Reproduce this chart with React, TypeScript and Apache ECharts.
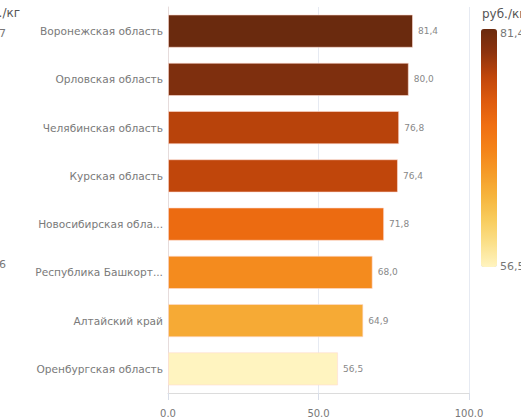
import React, { useEffect, useRef } from "react";
import * as echarts from "echarts";

const categories = [
  "Воронежская область",
  "Орловская область",
  "Челябинская область",
  "Курская область",
  "Новосибирская область",
  "Республика Башкортостан",
  "Алтайский край",
  "Оренбургская область",
];
const values = [81.4, 80.0, 76.8, 76.4, 71.8, 68.0, 64.9, 56.5];
const xTicks = [0, 50, 100];
const unitLabel = "руб./кг";
const prevLegendTop = "81,7";
const prevLegendBottom = "56,6";

const fmt = (v: number) => v.toFixed(1).replace(".", ",");
const shorten = (s: string) => (s.length > 20 ? s.slice(0, 18) + "..." : s);

export default function App() {
  const ref = useRef<HTMLDivElement>(null);
  useEffect(() => {
    document.body.style.margin = "0";
    if (!ref.current) return;
    const chart = echarts.init(ref.current, null, { renderer: "svg" });
    const vmin = Math.min(...values);
    const vmax = Math.max(...values);
    const font = "DejaVu Sans";
    chart.setOption({
      animation: false,
      textStyle: { fontFamily: font },
      grid: { left: 168, right: 52, top: 7, bottom: 25, containLabel: false },
      xAxis: {
        type: "value",
        min: xTicks[0],
        max: xTicks[xTicks.length - 1],
        interval: 50,
        axisLine: { show: true, lineStyle: { color: "#dcdcdc" } },
        axisTick: { show: true, length: 7, lineStyle: { color: "#d8dde8" } },
        splitLine: { show: true, lineStyle: { color: "#e6eaf2" } },
        axisLabel: {
          color: "#777",
          fontSize: 10,
          margin: 15,
          fontFamily: font,
          formatter: (v: number) => v.toFixed(1),
        },
      },
      yAxis: {
        type: "category",
        data: categories,
        inverse: true,
        axisLine: { show: true, lineStyle: { color: "#e6dcdc" } },
        axisTick: { show: false },
        axisLabel: {
          color: "#7a7a7a",
          fontSize: 10.6,
          margin: 5,
          fontFamily: font,
          formatter: (v: string) => shorten(v),
        },
      },
      visualMap: {
        type: "continuous",
        min: vmin,
        max: vmax,
        dimension: 0,
        seriesIndex: 0,
        left: 481,
        top: 29,
        padding: 0,
        itemWidth: 16,
        itemHeight: 238,
        calculable: false,
        showLabel: false,
        inRange: {
          color: [
            "#fff4c0",
            "#fbe08a",
            "#f8cc5c",
            "#f6b43c",
            "#f59a28",
            "#f48218",
            "#ef6e12",
            "#dd5a0e",
            "#c0460b",
            "#8e330e",
            "#6a2a0e",
          ],
        },
      },
      graphic: [
        {
          type: "text",
          x: 482,
          y: 14,
          style: { text: unitLabel, fill: "#555", fontSize: 12, fontFamily: font, verticalAlign: "middle" },
        },
        {
          type: "text",
          x: 500,
          y: 33,
          style: { text: fmt(vmax), fill: "#777", fontSize: 11, fontFamily: font, verticalAlign: "middle" },
        },
        {
          type: "text",
          x: 500,
          y: 266,
          style: { text: fmt(vmin), fill: "#777", fontSize: 11, fontFamily: font, verticalAlign: "middle" },
        },
        {
          type: "text",
          x: 20,
          y: 13,
          style: { text: unitLabel, fill: "#555", fontSize: 12, fontFamily: font, align: "right", verticalAlign: "middle" },
        },
        {
          type: "text",
          x: 6,
          y: 33,
          style: { text: prevLegendTop, fill: "#777", fontSize: 11, fontFamily: font, align: "right", verticalAlign: "middle" },
        },
        {
          type: "text",
          x: 6,
          y: 264,
          style: { text: prevLegendBottom, fill: "#777", fontSize: 11, fontFamily: font, align: "right", verticalAlign: "middle" },
        },
      ],
      series: [
        {
          type: "bar",
          data: values,
          barCategoryGap: "31%",
          itemStyle: { borderColor: "rgba(255,220,210,0.6)", borderWidth: 1 },
          label: {
            show: true,
            position: "right",
            distance: 5,
            color: "#888",
            fontSize: 9,
            fontFamily: font,
            formatter: (p: any) => fmt(p.value),
          },
        },
      ],
    });
    return () => chart.dispose();
  }, []);
  return <div ref={ref} style={{ width: 521, height: 418 }} />;
}
